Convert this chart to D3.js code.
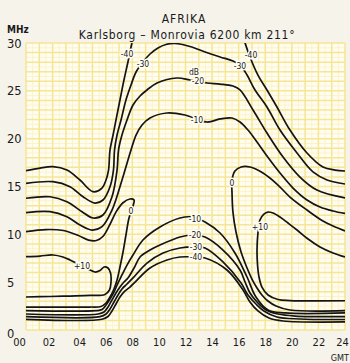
<!DOCTYPE html>
<html>
<head>
<meta charset="utf-8">
<script src="https://cdn.jsdelivr.net/npm/d3@7"></script>
<style>
  html, body { margin: 0; padding: 0; background: #f5f3ea; }
  svg { display: block; font-family: "DejaVu Sans Condensed", "DejaVu Sans", sans-serif; }
</style>
</head>
<body>
<svg id="chart" width="350" height="363"></svg>
<script>
// contour lines, [GMT hour, MHz]
const upper40 = [[0,16.65],[1.05,16.93],[2.03,17.07],[3.08,16.72],[4.06,15.68],[5.04,14.46],[5.72,14.84],[6.02,15.68],[6.21,16.72],[6.32,18.81],[6.55,20.38],[6.77,21.95],[7.07,24.04],[7.37,26.13],[7.67,28.01],[7.97,30],[8.3,31.5],[16.1,31.5],[16.48,30],[16.85,28.54],[17.45,26.65],[18.13,25.09],[18.88,23.31],[19.86,20.9],[21.14,18.5],[22.34,17.04],[23.25,16.72],[24,16.62]];
const upper30 = [[0,15.33],[2.03,15.5],[3.31,14.98],[4.29,13.93],[5.19,13.27],[5.79,13.59],[6.32,14.98],[6.58,16.72],[6.66,18.81],[6.85,20.38],[7.15,21.95],[7.52,24.04],[7.9,25.61],[8.28,26.97],[8.8,28.01],[9.33,28.85],[9.93,29.48],[10.53,29.84],[11.21,29.95],[12.34,29.63],[13.47,29.06],[14.6,28.54],[15.57,28.12],[16.1,27.7],[16.63,26.65],[17.23,25.09],[18.13,23.31],[19.11,20.9],[20.39,18.5],[21.59,16.52],[22.65,15.68],[24,15.26]];
const upper20 = [[0,13.77],[1.81,13.93],[3.08,13.41],[4.21,12.37],[5.04,11.71],[5.79,12.02],[6.47,13.93],[6.85,16.72],[6.96,18.81],[7.22,20.38],[7.6,21.95],[8.05,23.52],[8.58,24.46],[9.1,25.09],[9.86,25.82],[11.36,26.34],[12.34,26.13],[13.62,25.82],[14.6,25.71],[15.57,25.5],[16.1,25.09],[17.08,23.0],[18.13,20.59],[19.34,18.08],[20.61,15.99],[21.89,14.63],[24,13.8]];
const upper10 = [[0,12.26],[1.81,12.37],[3.08,11.84],[4.06,10.97],[4.97,10.45],[5.72,10.8],[6.47,12.54],[7.07,14.98],[7.45,16.72],[7.9,18.81],[8.28,20.38],[8.73,21.43],[9.33,22.16],[10.6,22.68],[11.96,22.47],[13.62,21.74],[14.6,22.06],[15.5,22.16],[16.1,21.74],[16.7,20.9],[17.38,19.65],[18.13,18.19],[19.11,16.41],[20.09,14.84],[21.14,13.59],[22.12,12.86],[23.1,12.44],[24,12.18]];
const zeroLeft = [[0,10.28],[1.5,10.5],[2.8,10.4],[3.9,9.9],[4.7,9.4],[5.3,9.35],[5.8,9.8],[6.3,11.0],[6.8,12.4],[7.3,13.3],[7.82,13.69],[8.13,13.59],[8.05,12.96],[7.75,11.71],[7.52,9.93],[7.3,8.15],[7.07,6.59],[6.85,5.23],[6.62,4.29],[6.32,3.45],[6.02,2.82],[5.64,2.46],[4.81,2.4],[1.81,2.4],[0,2.4]];
const zeroRight = [[24,10.35],[23.1,10.87],[22.34,11.39],[21.14,12.54],[19.86,13.9],[18.88,15.26],[17.83,16.41],[16.85,17.04],[16.18,17.04],[15.72,16.62],[15.5,15.68],[15.5,14.32],[15.57,12.33],[15.8,10.24],[16.18,8.15],[16.63,6.48],[17.0,5.33],[17.38,4.39],[17.75,3.66],[18.2,3.03],[18.81,2.51],[19.86,2.09],[24,2.02]];
const plus10Left = [[0,7.66],[1.05,7.73],[2.03,7.84],[2.78,7.63],[3.31,7.32],[4.06,6.79],[4.66,6.38],[5.19,6.06],[5.57,6.22],[5.87,6.59],[6.17,6.48],[6.36,5.96],[6.39,4.91],[6.28,4.18],[5.94,3.71],[4.81,3.61],[3.31,3.55],[1.81,3.5],[0,3.45]];
const plus10Right = [[24,7.63],[23.1,8.05],[22.12,8.68],[21.22,9.51],[20.39,10.45],[19.71,11.18],[19.11,11.81],[18.58,12.23],[18.21,12.33],[17.9,12.12],[17.6,11.5],[17.45,10.14],[17.38,8.36],[17.42,6.79],[17.53,5.54],[17.75,4.49],[18.21,3.66],[18.96,3.19],[19.86,3.08],[24,3.06]];
const lower10 = [[0,2.02],[5.27,2.02],[5.72,2.14],[6.02,2.61],[6.32,3.24],[6.62,3.97],[6.92,4.91],[7.22,5.75],[7.6,6.79],[8.05,7.84],[8.8,9.41],[10.08,10.77],[11.59,11.71],[12.56,11.81],[13.47,11.29],[14.6,10.14],[15.72,8.05],[16.63,5.54],[17.3,3.45],[18.21,2.09],[19.49,1.78],[24,1.78]];
const lower20 = [[0,1.67],[5.42,1.67],[5.87,1.88],[6.17,2.4],[6.47,3.14],[6.77,3.87],[7.07,4.49],[7.37,5.02],[7.67,5.44],[8.13,6.48],[8.58,7.63],[9.33,8.36],[10.08,8.88],[11.59,9.72],[12.56,9.93],[13.47,9.72],[14.82,8.36],[16.1,6.27],[16.48,5.02],[16.85,3.87],[17.45,2.82],[18.06,2.09],[18.96,1.67],[20.24,1.46],[24,1.39]];
const lower30 = [[0,1.39],[5.57,1.39],[6.02,1.67],[6.32,2.2],[6.62,2.93],[6.92,3.66],[7.22,4.29],[7.6,4.81],[8.05,5.44],[9.1,7.0],[10.31,8.05],[11.59,8.57],[12.71,8.68],[13.47,8.57],[14.82,7.11],[16.18,4.91],[16.7,3.66],[17.3,2.72],[17.9,1.99],[18.88,1.36],[20.61,1.15],[24,1.1]];
const lower40 = [[0,1.12],[5.72,1.12],[6.17,1.41],[6.47,1.99],[6.77,2.72],[7.07,3.45],[7.45,4.08],[7.82,4.49],[8.28,5.12],[9.33,6.48],[10.61,7.32],[11.59,7.63],[12.71,7.63],[13.47,7.53],[15.12,6.27],[16.33,4.18],[16.85,2.93],[17.45,1.99],[18.28,1.25],[19.34,0.94],[24,0.84]];

// dB labels sitting on the lines: [text, hour, MHz]
const contourLabels = [['-40',7.6,28.85],['-30',8.8,27.8],['dB',12.64,26.97],['-20',12.94,26.03],['-40',16.93,28.74],['-30',16.1,27.6],['-10',12.86,21.95],['0',7.9,12.44],['0',15.5,15.37],['+10',4.21,6.69],['+10',17.6,10.77],['-10',12.71,11.6],['-20',12.71,9.93],['-30',12.79,8.68],['-40',12.79,7.63]];

const hourTicks = d3.range(0, 25, 2);
const mhzTicks = [0, 5, 10, 15, 20, 25, 30];

const plot = { left: 26, right: 345, top: 43, bottom: 330 };
const plotBg = '#fffdf1';

const svg = d3.select('#chart');

const x = d3.scaleLinear().domain([0, 24]).range([plot.left, plot.right]);
const y = d3.scaleLinear().domain([0, 30]).range([plot.bottom, plot.top]);

// plot paper
svg.append('rect')
  .attr('x', plot.left).attr('y', plot.top)
  .attr('width', plot.right - plot.left).attr('height', plot.bottom - plot.top)
  .attr('fill', plotBg);

const grid = svg.append('g').attr('class', 'grid');
// faint half steps
grid.selectAll('line.vminor').data(d3.range(0.5, 24, 1)).enter().append('line')
  .attr('x1', d => x(d)).attr('x2', d => x(d))
  .attr('y1', plot.top).attr('y2', plot.bottom)
  .attr('stroke', '#fbf3cc').attr('stroke-width', 1);
grid.selectAll('line.hminor').data(d3.range(0.5, 30, 1)).enter().append('line')
  .attr('x1', plot.left).attr('x2', plot.right)
  .attr('y1', d => y(d)).attr('y2', d => y(d))
  .attr('stroke', '#fbf3cc').attr('stroke-width', 1);
// hour and MHz lines
grid.selectAll('line.vmajor').data(d3.range(0, 25, 1)).enter().append('line')
  .attr('x1', d => x(d)).attr('x2', d => x(d))
  .attr('y1', plot.top).attr('y2', plot.bottom)
  .attr('stroke', '#f6e593').attr('stroke-width', 1.5);
grid.selectAll('line.hmajor').data(d3.range(0, 31, 1)).enter().append('line')
  .attr('x1', plot.left).attr('x2', plot.right)
  .attr('y1', d => y(d)).attr('y2', d => y(d))
  .attr('stroke', '#f6e593').attr('stroke-width', 1.5);

svg.append('clipPath').attr('id', 'plotclip')
  .append('rect')
  .attr('x', plot.left).attr('y', plot.top)
  .attr('width', plot.right - plot.left).attr('height', plot.bottom - plot.top);

const line = d3.line()
  .x(d => x(d[0]))
  .y(d => y(d[1]))
  .curve(d3.curveCatmullRom.alpha(0.5));

const contours = [upper40, upper30, upper20, upper10, zeroLeft, zeroRight,
  plus10Left, plus10Right, lower10, lower20, lower30, lower40];

svg.append('g')
  .attr('clip-path', 'url(#plotclip)')
  .selectAll('path')
  .data(contours)
  .enter().append('path')
  .attr('d', line)
  .attr('fill', 'none')
  .attr('stroke', '#141414')
  .attr('stroke-width', 1.7)
  .attr('stroke-linejoin', 'round');

svg.append('g')
  .selectAll('text')
  .data(contourLabels)
  .enter().append('text')
  .attr('x', d => x(d[1]))
  .attr('y', d => y(d[2]))
  .attr('dy', '0.35em')
  .attr('text-anchor', 'middle')
  .attr('font-size', 8.5)
  .attr('fill', '#1a1a1a')
  .attr('stroke', plotBg)
  .attr('stroke-width', 3)
  .attr('paint-order', 'stroke')
  .text(d => d[0]);

// axes
const yAxis = d3.axisLeft(y).tickValues(mhzTicks).tickSize(0).tickFormat(d3.format('d'));
const gy = svg.append('g').call(yAxis);
gy.select('.domain').remove();
gy.selectAll('text')
  .attr('x', 7).attr('dy', d => d === 0 ? '0.65em' : '0.35em')
  .attr('text-anchor', 'start')
  .attr('font-size', 11.5).attr('fill', '#1a1a1a')
  .attr('font-family', '"DejaVu Sans", sans-serif');

const xAxis = d3.axisBottom(x).tickValues(hourTicks).tickSize(0).tickFormat(d3.format('02d'));
const gx = svg.append('g').attr('transform', 'translate(0,' + plot.bottom + ')').call(xAxis);
gx.select('.domain').remove();
gx.selectAll('text')
  .attr('y', 12).attr('dy', '0.32em')
  .attr('dx', d => d === 0 ? -7 : d === 2 ? -4 : d === 24 ? -3 : 0)
  .attr('font-size', 11).attr('fill', '#1a1a1a')
  .attr('font-family', '"DejaVu Sans Condensed", sans-serif');

// titles
svg.append('text')
  .attr('x', 184).attr('y', 23)
  .attr('text-anchor', 'middle')
  .attr('font-size', 12).attr('letter-spacing', 1)
  .attr('fill', '#1a1a1a')
  .text('AFRIKA');
svg.append('text')
  .attr('x', 187).attr('y', 38.5)
  .attr('text-anchor', 'middle')
  .attr('font-size', 12).attr('letter-spacing', 0.7)
  .attr('fill', '#1a1a1a')
  .text('Karlsborg – Monrovia  6200 km  211°');
svg.append('text')
  .attr('x', 7).attr('y', 33)
  .attr('font-size', 10).attr('font-weight', 'bold')
  .attr('fill', '#1a1a1a')
  .text('MHz');
svg.append('text')
  .attr('x', 349).attr('y', 361)
  .attr('text-anchor', 'end')
  .attr('font-size', 9)
  .attr('fill', '#1a1a1a')
  .text('GMT');
</script>
</body>
</html>
